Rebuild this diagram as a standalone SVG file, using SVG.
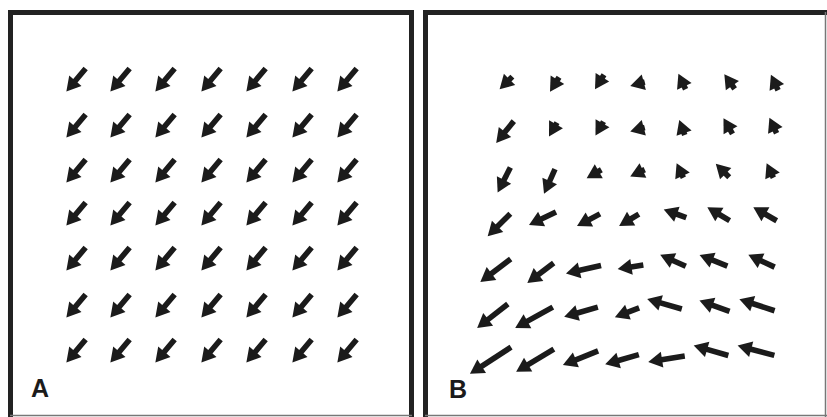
<svg xmlns="http://www.w3.org/2000/svg" xmlns:xlink="http://www.w3.org/1999/xlink" width="827" height="417" viewBox="0 0 827 417">
<style>
.frame{fill:none;stroke:#222;stroke-width:5}
.thin{fill:none;stroke:#777;stroke-width:1.5}
.ar{fill:#1b1b1b}
.lbl{font-family:"Liberation Sans",Arial,sans-serif;font-weight:bold;font-size:25px;fill:#1b1b1b}
</style>
<defs>
<path id="aa" d="M-15,-2.8 L1,-2.8 L1,-8 L15,0 L1,8 L1,2.8 L-15,2.8 Z"/>
<path id="hd" d="M0,0 L-14,-8 L-14,8 Z"/>
</defs>
<rect width="827" height="417" fill="#fff"/>
<g id="panelA">
<path class="frame" d="M10.5,417 V12.5 H411.5 V417"/>
<line class="thin" x1="10" y1="415.5" x2="412" y2="415.5"/>
<text class="lbl" x="31" y="397">A</text>
<g id="fieldA" class="ar">
<use href="#aa" transform="translate(76,80) rotate(130)"/><use href="#aa" transform="translate(120,80) rotate(130)"/><use href="#aa" transform="translate(165,80) rotate(130)"/><use href="#aa" transform="translate(211,80) rotate(130)"/><use href="#aa" transform="translate(256,80) rotate(130)"/><use href="#aa" transform="translate(302,80) rotate(130)"/><use href="#aa" transform="translate(347,80) rotate(130)"/>
<use href="#aa" transform="translate(76,126) rotate(130)"/><use href="#aa" transform="translate(120,126) rotate(130)"/><use href="#aa" transform="translate(165,126) rotate(130)"/><use href="#aa" transform="translate(211,126) rotate(130)"/><use href="#aa" transform="translate(256,126) rotate(130)"/><use href="#aa" transform="translate(302,126) rotate(130)"/><use href="#aa" transform="translate(347,126) rotate(130)"/>
<use href="#aa" transform="translate(76,171) rotate(130)"/><use href="#aa" transform="translate(120,171) rotate(130)"/><use href="#aa" transform="translate(165,171) rotate(130)"/><use href="#aa" transform="translate(211,171) rotate(130)"/><use href="#aa" transform="translate(256,171) rotate(130)"/><use href="#aa" transform="translate(302,171) rotate(130)"/><use href="#aa" transform="translate(347,171) rotate(130)"/>
<use href="#aa" transform="translate(76,214) rotate(130)"/><use href="#aa" transform="translate(120,214) rotate(130)"/><use href="#aa" transform="translate(165,214) rotate(130)"/><use href="#aa" transform="translate(211,214) rotate(130)"/><use href="#aa" transform="translate(256,214) rotate(130)"/><use href="#aa" transform="translate(302,214) rotate(130)"/><use href="#aa" transform="translate(347,214) rotate(130)"/>
<use href="#aa" transform="translate(76,259) rotate(130)"/><use href="#aa" transform="translate(120,259) rotate(130)"/><use href="#aa" transform="translate(165,259) rotate(130)"/><use href="#aa" transform="translate(211,259) rotate(130)"/><use href="#aa" transform="translate(256,259) rotate(130)"/><use href="#aa" transform="translate(302,259) rotate(130)"/><use href="#aa" transform="translate(347,259) rotate(130)"/>
<use href="#aa" transform="translate(76,306) rotate(130)"/><use href="#aa" transform="translate(120,306) rotate(130)"/><use href="#aa" transform="translate(165,306) rotate(130)"/><use href="#aa" transform="translate(211,306) rotate(130)"/><use href="#aa" transform="translate(256,306) rotate(130)"/><use href="#aa" transform="translate(302,306) rotate(130)"/><use href="#aa" transform="translate(347,306) rotate(130)"/>
<use href="#aa" transform="translate(76,351) rotate(130)"/><use href="#aa" transform="translate(120,351) rotate(130)"/><use href="#aa" transform="translate(165,351) rotate(130)"/><use href="#aa" transform="translate(211,351) rotate(130)"/><use href="#aa" transform="translate(256,351) rotate(130)"/><use href="#aa" transform="translate(302,351) rotate(130)"/><use href="#aa" transform="translate(347,351) rotate(130)"/>
</g>
</g>
<g id="panelB">
<path class="frame" d="M425.5,417 V12.5 H827"/>
<line class="thin" x1="825.5" y1="12" x2="825.5" y2="417"/>
<line class="thin" x1="425" y1="415.5" x2="827" y2="415.5"/>
<text class="lbl" x="449" y="398">B</text>
<g id="fieldB" class="ar">
<g transform="translate(506,83) rotate(135)"><rect x="-9" y="-2.8" width="6" height="5.6"/><use href="#hd" x="9"/></g>
<g transform="translate(554.5,84.5) rotate(122)"><rect x="-8.5" y="-2.8" width="5" height="5.6"/><use href="#hd" x="8.5"/></g>
<g transform="translate(599.5,82) rotate(122)"><rect x="-8.5" y="-2.8" width="5" height="5.6"/><use href="#hd" x="8.5"/></g>
<g transform="translate(637.5,84) rotate(165)"><rect x="-7.5" y="-2.8" width="3" height="5.6"/><use href="#hd" x="7.5"/></g>
<g transform="translate(682,81.5) rotate(-115)"><rect x="-8.5" y="-2.8" width="5" height="5.6"/><use href="#hd" x="8.5"/></g>
<g transform="translate(729.5,81.5) rotate(-125)"><rect x="-9" y="-2.8" width="6" height="5.6"/><use href="#hd" x="9"/></g>
<g transform="translate(774.5,82.5) rotate(-115)"><rect x="-8.5" y="-2.8" width="5" height="5.6"/><use href="#hd" x="8.5"/></g>

<g transform="translate(505,132) rotate(129)"><rect x="-14" y="-2.8" width="16" height="5.6"/><use href="#hd" x="14"/></g>
<g transform="translate(553,129.5) rotate(120)"><rect x="-8" y="-2.8" width="4" height="5.6"/><use href="#hd" x="8"/></g>
<g transform="translate(599.5,128.5) rotate(120)"><rect x="-8" y="-2.8" width="4" height="5.6"/><use href="#hd" x="8"/></g>
<g transform="translate(637.5,129.5) rotate(165)"><rect x="-7.5" y="-2.8" width="3" height="5.6"/><use href="#hd" x="7.5"/></g>
<g transform="translate(682,127.5) rotate(-110)"><rect x="-8" y="-2.8" width="4" height="5.6"/><use href="#hd" x="8"/></g>
<g transform="translate(728,126) rotate(-120)"><rect x="-9" y="-2.8" width="6" height="5.6"/><use href="#hd" x="9"/></g>
<g transform="translate(773,125.5) rotate(-115)"><rect x="-8.5" y="-2.8" width="5" height="5.6"/><use href="#hd" x="8.5"/></g>

<g transform="translate(504,180) rotate(117)"><rect x="-14" y="-2.8" width="16" height="5.6"/><use href="#hd" x="14"/></g>
<g transform="translate(549.5,181.5) rotate(114)"><rect x="-13.5" y="-2.8" width="15" height="5.6"/><use href="#hd" x="13.5"/></g>
<g transform="translate(594,174) rotate(150)"><rect x="-8.5" y="-2.8" width="5" height="5.6"/><use href="#hd" x="8.5"/></g>
<g transform="translate(637.5,173) rotate(155)"><rect x="-8" y="-2.8" width="4" height="5.6"/><use href="#hd" x="8"/></g>
<g transform="translate(680,170.5) rotate(-115)"><rect x="-8" y="-2.8" width="4" height="5.6"/><use href="#hd" x="8"/></g>
<g transform="translate(722.5,170.5) rotate(-135)"><rect x="-9.5" y="-2.8" width="7" height="5.6"/><use href="#hd" x="9.5"/></g>
<g transform="translate(770,170.5) rotate(-115)"><rect x="-8" y="-2.8" width="4" height="5.6"/><use href="#hd" x="8"/></g>

<g transform="translate(499,225) rotate(135)"><rect x="-16" y="-2.8" width="20" height="5.6"/><use href="#hd" x="16"/></g>
<g transform="translate(542.5,218.5) rotate(154)"><rect x="-15" y="-2.8" width="18" height="5.6"/><use href="#hd" x="15"/></g>
<g transform="translate(588.5,220) rotate(152)"><rect x="-13" y="-2.8" width="14" height="5.6"/><use href="#hd" x="13"/></g>
<g transform="translate(629,220) rotate(149)"><rect x="-11.5" y="-2.8" width="11" height="5.6"/><use href="#hd" x="11.5"/></g>
<g transform="translate(675,213.5) rotate(-160)"><rect x="-12" y="-2.8" width="12" height="5.6"/><use href="#hd" x="12"/></g>
<g transform="translate(718.5,214) rotate(-149)"><rect x="-13" y="-2.8" width="14" height="5.6"/><use href="#hd" x="13"/></g>
<g transform="translate(765,214) rotate(-150)"><rect x="-13.5" y="-2.8" width="15" height="5.6"/><use href="#hd" x="13.5"/></g>

<g transform="translate(495.5,270.5) rotate(143)"><rect x="-19" y="-2.8" width="26" height="5.6"/><use href="#hd" x="19"/></g>
<g transform="translate(540.5,273) rotate(143)"><rect x="-16.5" y="-2.8" width="21" height="5.6"/><use href="#hd" x="16.5"/></g>
<g transform="translate(583.5,269.5) rotate(167)"><rect x="-18" y="-2.8" width="24" height="5.6"/><use href="#hd" x="18"/></g>
<g transform="translate(630.5,267) rotate(171)"><rect x="-13" y="-2.8" width="14" height="5.6"/><use href="#hd" x="13"/></g>
<g transform="translate(673,260.5) rotate(-156)"><rect x="-14" y="-2.8" width="16" height="5.6"/><use href="#hd" x="14"/></g>
<g transform="translate(713.5,260.5) rotate(-158)"><rect x="-15" y="-2.8" width="18" height="5.6"/><use href="#hd" x="15"/></g>
<g transform="translate(761.5,261) rotate(-155)"><rect x="-14.5" y="-2.8" width="17" height="5.6"/><use href="#hd" x="14.5"/></g>

<g transform="translate(492.5,316) rotate(142)"><rect x="-19.5" y="-2.8" width="27" height="5.6"/><use href="#hd" x="19.5"/></g>
<g transform="translate(534,317.5) rotate(151)"><rect x="-21.5" y="-2.8" width="31" height="5.6"/><use href="#hd" x="21.5"/></g>
<g transform="translate(581,312) rotate(164)"><rect x="-17.5" y="-2.8" width="23" height="5.6"/><use href="#hd" x="17.5"/></g>
<g transform="translate(627,312.5) rotate(159)"><rect x="-13" y="-2.8" width="14" height="5.6"/><use href="#hd" x="13"/></g>
<g transform="translate(664.5,304) rotate(-164)"><rect x="-18" y="-2.8" width="24" height="5.6"/><use href="#hd" x="18"/></g>
<g transform="translate(714.5,306) rotate(-160)"><rect x="-16" y="-2.8" width="20" height="5.6"/><use href="#hd" x="16"/></g>
<g transform="translate(757,305) rotate(-162)"><rect x="-18.5" y="-2.8" width="25" height="5.6"/><use href="#hd" x="18.5"/></g>

<g transform="translate(490.5,360.5) rotate(147)"><rect x="-24.5" y="-2.8" width="37" height="5.6"/><use href="#hd" x="24.5"/></g>
<g transform="translate(535,360.5) rotate(149)"><rect x="-22" y="-2.8" width="32" height="5.6"/><use href="#hd" x="22"/></g>
<g transform="translate(580.5,358) rotate(158)"><rect x="-19" y="-2.8" width="26" height="5.6"/><use href="#hd" x="19"/></g>
<g transform="translate(622,359.5) rotate(164)"><rect x="-17.5" y="-2.8" width="23" height="5.6"/><use href="#hd" x="17.5"/></g>
<g transform="translate(666.5,359) rotate(171)"><rect x="-18.5" y="-2.8" width="25" height="5.6"/><use href="#hd" x="18.5"/></g>
<g transform="translate(711,350.5) rotate(-164)"><rect x="-18" y="-2.8" width="24" height="5.6"/><use href="#hd" x="18"/></g>
<g transform="translate(756,350.5) rotate(-165)"><rect x="-19" y="-2.8" width="26" height="5.6"/><use href="#hd" x="19"/></g>
</g>
</g>
</svg>
